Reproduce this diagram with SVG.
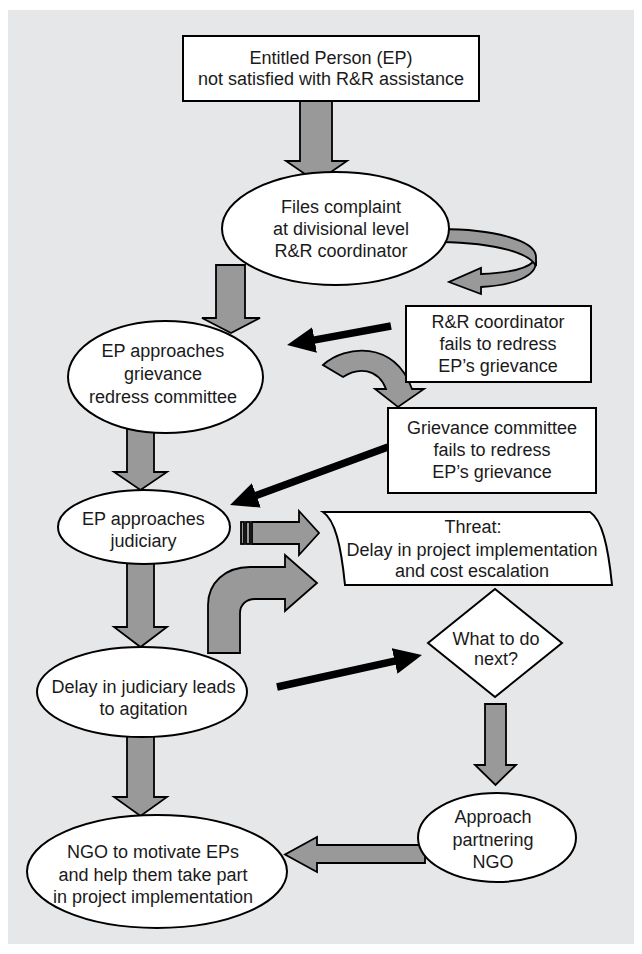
<svg xmlns="http://www.w3.org/2000/svg" width="642" height="954" viewBox="0 0 642 954">
<style>
  .bg { fill: #e6e7e9; }
  .node { fill: #ffffff; stroke: #000000; stroke-width: 2; }
  .blk { fill: #999999; stroke: #000000; stroke-width: 1.8; stroke-linejoin: miter; }
  .thick { stroke: #000000; stroke-width: 7.5; fill: none; }
  text { font-family: "Liberation Sans", Arial, sans-serif; font-size: 18px; fill: #1a1a1a; text-anchor: middle; }
</style>
<defs>
  <marker id="head" markerUnits="userSpaceOnUse" markerWidth="28" markerHeight="26" viewBox="0 0 28 26" refX="1" refY="13" orient="auto">
    <path d="M0,0 L28,13 L0,26 Z" fill="#000000"/>
  </marker>
</defs>
<rect class="bg" x="8" y="10" width="626" height="934"/>

<g id="connectors">
  <!-- block arrows -->
  <path class="blk" d="M300,101 H332 V161 H347 L316.5,182 L286,161 H300 Z"/>
  <path class="blk" d="M216,265 H245 V318 H260 L231,333 L202,318 H216 Z"/>
  <path class="blk" d="M127,425 H154 V472 H167 L140.5,490 L114,472 H127 Z"/>
  <path class="blk" d="M127,560 H154 V627 H167 L140.5,647 L114,627 H127 Z"/>
  <path class="blk" d="M127,730 H154 V797 H167 L140.5,816 L114,797 H127 Z"/>
  <path class="blk" d="M485,704 H506 V765 H516 L495.5,785 L475,765 H485 Z"/>
  <path class="blk" d="M425,845 V863 H317 V872 L285,854.5 L317,837 V845 Z"/>
  <!-- circular arrow from complaint -->
  <path class="blk" d="M536,262 C536,276 515,285 481,287 L481,294 L449,282 L481,268 L481,274 C505,273 526,269 533,262 Z"/>
  <path class="blk" d="M440,229 C492,229 536,240 536,257 L536,266 C530,254 500,243 440,242 Z"/>
  <!-- curved arrow between fail boxes -->
  <path class="blk" d="M323,365 C345,345 395,340 412,389 H424 L398,407 L375,389 H386 C378,368 358,367 343,377 Z"/>
  <!-- striped arrow -->
  <rect class="blk" x="241" y="522" width="3" height="22"/>
  <rect class="blk" x="246" y="522" width="4" height="22"/>
  <path class="blk" d="M252,522 H299 V511 L319,533 L299,555 V544 H252 Z"/>
  <!-- bent-up arrow -->
  <path class="blk" d="M208,653 V605 C208,583 225,567 250,567 H285 V555 L317,583 L285,611 V599 H255 C246,599 240,605 240,613 V653 Z"/>
  <!-- thick black arrows -->
  <line class="thick" x1="391" y1="326" x2="313.6" y2="340.1" marker-end="url(#head)"/>
  <line class="thick" x1="388" y1="447" x2="255.4" y2="495.7" marker-end="url(#head)"/>
  <line class="thick" x1="277" y1="687" x2="395.6" y2="660.8" marker-end="url(#head)"/>
</g>

<g id="node-ep">
  <rect class="node" x="183" y="36" width="296" height="65"/>
  <text x="331" y="64">Entitled Person (EP)</text>
  <text x="331" y="85">not satisfied with R&amp;R assistance</text>
</g>

<g id="node-files">
  <ellipse class="node" cx="335.5" cy="228.5" rx="113.5" ry="56.5"/>
  <text x="341" y="213">Files complaint</text>
  <text x="341" y="235">at divisional level</text>
  <text x="341" y="257">R&amp;R coordinator</text>
</g>

<g id="node-rr-fails">
  <rect class="node" x="406" y="306" width="185" height="76"/>
  <text x="498" y="328">R&amp;R coordinator</text>
  <text x="498" y="350">fails to redress</text>
  <text x="498" y="372">EP’s grievance</text>
</g>

<g id="node-grievance">
  <ellipse class="node" cx="165.5" cy="377" rx="97.5" ry="56"/>
  <text x="163" y="357">EP approaches</text>
  <text x="163" y="380">grievance</text>
  <text x="163" y="403">redress committee</text>
</g>

<g id="node-gc-fails">
  <rect class="node" x="388" y="408" width="208" height="85"/>
  <text x="492" y="434">Grievance committee</text>
  <text x="492" y="456">fails to redress</text>
  <text x="492" y="478">EP’s grievance</text>
</g>

<g id="node-judiciary">
  <ellipse class="node" cx="144" cy="527" rx="86" ry="37"/>
  <text x="143.5" y="525">EP approaches</text>
  <text x="143.5" y="547">judiciary</text>
</g>

<g id="node-threat">
  <path class="node" d="M323,512 H590 C602,520 608,545 612,585 H345 C341,545 335,520 323,512 Z"/>
  <text x="473" y="533">Threat:</text>
  <text x="472" y="556">Delay in project implementation</text>
  <text x="472" y="577">and cost escalation</text>
</g>

<g id="node-delay">
  <ellipse class="node" cx="142" cy="692" rx="105" ry="45"/>
  <text x="143.5" y="693">Delay in judiciary leads</text>
  <text x="143.5" y="715">to agitation</text>
</g>

<g id="node-next">
  <polygon class="node" points="428,643 495,589 562,643 495,697"/>
  <text x="496" y="645">What to do</text>
  <text x="496" y="665">next?</text>
</g>

<g id="node-approach">
  <ellipse class="node" cx="497" cy="837.5" rx="79" ry="44.5"/>
  <text x="493" y="823">Approach</text>
  <text x="493" y="846">partnering</text>
  <text x="493" y="868">NGO</text>
</g>

<g id="node-ngo">
  <ellipse class="node" cx="157" cy="871.5" rx="130" ry="56.5"/>
  <text x="153" y="858">NGO to motivate EPs</text>
  <text x="153" y="881">and help them take part</text>
  <text x="153" y="903">in project implementation</text>
</g>
</svg>
